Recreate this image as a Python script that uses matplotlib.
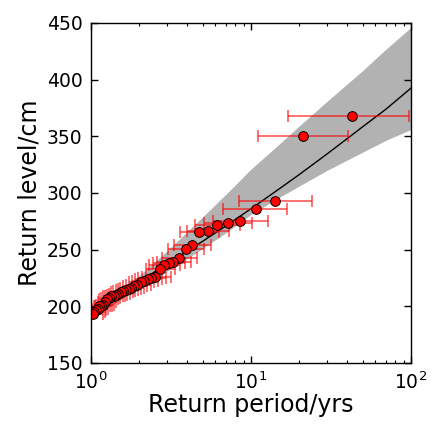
import matplotlib
matplotlib.use("Agg")
import matplotlib.pyplot as plt
import numpy as np

# Empirical return periods (years) and return levels (cm)
period = [42.8, 21.3, 14.2, 10.7, 8.54, 7.15, 6.14, 5.36, 4.73, 4.28, 3.92,
          3.55, 3.27, 3.07, 2.87, 2.69, 2.53, 2.39, 2.26, 2.15, 2.05, 1.95,
          1.87, 1.79, 1.72, 1.65, 1.59, 1.54, 1.48, 1.43, 1.39, 1.34, 1.30,
          1.26, 1.23, 1.19, 1.16, 1.13, 1.10, 1.075, 1.05, 1.024]
level = [367.5, 349.8, 292.6, 286.1, 275.5, 273.2, 272.0, 266.7, 265.8, 253.7,
         250.8, 242.8, 239.0, 237.8, 236.0, 233.0, 225.4, 224.8, 224.2, 222.0,
         221.0, 219.0, 218.0, 216.5, 215.0, 214.0, 213.5, 212.5, 211.0, 210.0,
         209.5, 209.0, 207.0, 206.0, 204.0, 201.0, 200.5, 200.0, 198.0, 197.0,
         195.0, 193.5]
period_lo = [17.1, 11.1, 8.4, 6.65, 5.82, 5.1, 4.5, 4.0, 3.6, 3.3, 3.05, 2.8,
             2.6, 2.45, 2.3, 2.2, 2.08, 1.97, 1.88, 1.80, 1.72, 1.65, 1.59,
             1.53, 1.48, 1.43, 1.38, 1.34, 1.30, 1.26, 1.22, 1.19, 1.16, 1.13,
             1.10, 1.08, 1.06, 1.04, 1.02, 1.01, 1.005, 1.001]
period_hi = [97.7, 40.2, 24.2, 16.9, 12.8, 10.2, 8.6, 7.3, 6.3, 5.6, 5.1, 4.6,
             4.2, 3.9, 3.6, 3.35, 3.15, 2.95, 2.78, 2.62, 2.48, 2.36, 2.25,
             2.15, 2.06, 1.97, 1.89, 1.82, 1.75, 1.69, 1.63, 1.58, 1.53, 1.48,
             1.44, 1.40, 1.36, 1.32, 1.28, 1.25, 1.22, 1.19]

# Fitted return level curve and confidence band
fit_period = [1, 1.5, 2, 3, 5, 7, 10, 15, 20, 30, 50, 70, 100]
fit_level = [196.5, 210.5, 221.8, 237.3, 257.4, 271.0, 286.0, 303.5, 316.1,
             334.5, 358.4, 374.0, 392.4]
fit_upper = [199.0, 213.0, 227.0, 249.0, 279.0, 299.0, 321.0, 343.0, 359.0,
             381.0, 408.0, 427.0, 446.0]
fit_lower = [190.0, 205.0, 216.0, 231.0, 251.0, 265.0, 281.0, 296.0, 306.0,
             320.0, 336.0, 346.5, 356.0]

plt.rcParams['font.family'] = ['DejaVu Sans']
fig = plt.figure(figsize=(4.33, 4.24), dpi=100)
ax = fig.add_axes([0.210, 0.144, 0.739, 0.802])

ax.fill_between(fit_period, fit_lower, fit_upper, color='grey', alpha=0.6,
                linewidth=0)
ax.plot(fit_period, fit_level, color='black', lw=1)

p = np.array(period)
xerr = np.vstack([p - np.array(period_lo), np.array(period_hi) - p])
ax.errorbar(period, level, xerr=xerr, fmt='none', ecolor='red', alpha=0.6,
            elinewidth=1.3, capsize=4, capthick=1.3)
ax.plot(period, level, 'o', color='red', mec='black', mew=0.7, ms=7)

ax.set_xscale('log')
ax.set_xlim(1, 100)
ax.set_ylim(150, 450)
ax.set_yticks([150, 200, 250, 300, 350, 400, 450])
ax.tick_params(which='both', direction='in', top=True, right=True,
               labelsize=13.5, pad=6)
ax.tick_params(which='major', length=5, width=1)
ax.tick_params(which='minor', length=2.5, width=0.8)
for s in ax.spines.values():
    s.set_linewidth(1)
ax.set_xlabel('Return period/yrs', fontsize=17, labelpad=0)
ax.set_ylabel('Return level/cm', fontsize=17, labelpad=4)

fig.savefig('out.png', dpi=100, facecolor='white')
